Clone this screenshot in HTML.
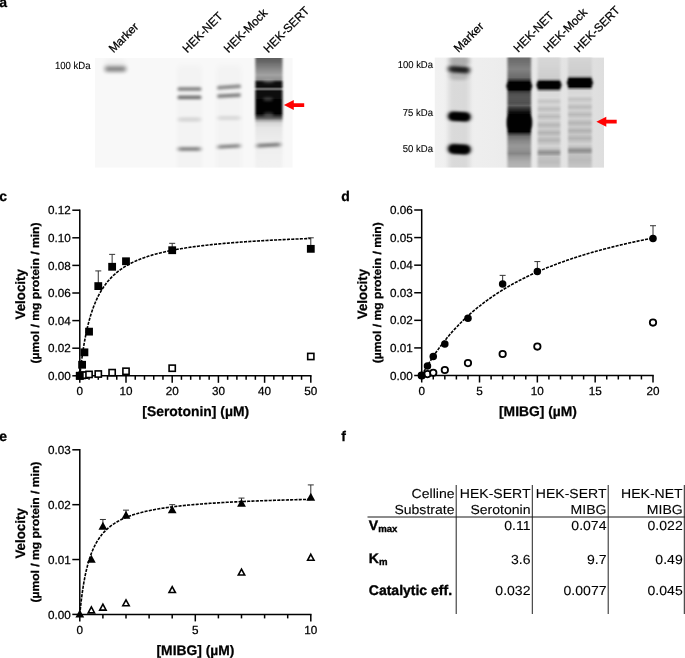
<!DOCTYPE html>
<html lang="en"><head><meta charset="utf-8"><title>Figure</title>
<style>
html,body{margin:0;padding:0;background:#fff;}
body{width:685px;height:658px;overflow:hidden;}
svg{display:block;font-family:'Liberation Sans', Arial, Helvetica, sans-serif;text-rendering:geometricPrecision;will-change:transform;opacity:0.999;}
.tk{font-size:11.7px;fill:#000;}
.b{font-weight:bold;}
text{stroke:#000;stroke-width:0.25px;}
.tbl text{stroke-width:0.1px;}
.tbl text.b{stroke-width:0.35px;}
</style></head><body>
<svg width="685" height="658" viewBox="0 0 685 658">
<defs>
<filter id="b1" x="-30%" y="-100%" width="160%" height="300%"><feGaussianBlur stdDeviation="1.2 0.9"/></filter>
<filter id="b1s" x="-30%" y="-150%" width="160%" height="400%"><feGaussianBlur stdDeviation="1.8 1.5"/></filter>
<filter id="sf" x="-10%" y="-5%" width="120%" height="110%"><feGaussianBlur stdDeviation="1.1 0.4"/></filter>
<filter id="bm" x="-30%" y="-200%" width="160%" height="500%"><feGaussianBlur stdDeviation="2 2.1"/></filter>
<filter id="b2" x="-30%" y="-100%" width="160%" height="300%"><feGaussianBlur stdDeviation="2 1.6"/></filter>
<filter id="b3" x="-30%" y="-50%" width="160%" height="200%"><feGaussianBlur stdDeviation="2.5 3"/></filter>
<filter id="b4" x="-30%" y="-30%" width="160%" height="160%"><feGaussianBlur stdDeviation="1.5 4"/></filter>
<clipPath id="cl1"><rect x="95" y="58" width="197.5" height="109.6"/></clipPath>
<clipPath id="cl2"><rect x="434.8" y="57.6" width="169.2" height="110"/></clipPath>
<linearGradient id="g2" x1="0" x2="1" y1="0" y2="0"><stop offset="0" stop-color="#f1f1f1"/><stop offset="0.35" stop-color="#ededed"/><stop offset="1" stop-color="#dedede"/></linearGradient>
</defs>
<rect width="685" height="658" fill="#fff"/>

<text x="-0.7" y="7.2" font-size="14" class="b">a</text>
<text x="-0.7" y="201.3" font-size="14" class="b">c</text>
<text x="341.3" y="201.2" font-size="14" class="b">d</text>
<text x="-0.7" y="440.5" font-size="14" class="b">e</text>
<text x="341.3" y="440.5" font-size="14" class="b">f</text>
<g id="blot1">
<rect x="95" y="58" width="197.5" height="109.6" fill="#f8f8f8"/>
<g clip-path="url(#cl1)">
<rect x="104.2" y="61.0" width="22" height="10" rx="5.0" fill="#000" opacity="0.06" filter="url(#b3)"/>
<rect x="104.7" y="67.0" width="21.5" height="4" rx="2.0" fill="#000" opacity="0.6" filter="url(#bm)"/>
<rect x="177.0" y="65.0" width="25" height="110" rx="3.0" fill="#000" opacity="0.02" filter="url(#b3)"/>
<rect x="216.5" y="65.0" width="25" height="110" rx="3.0" fill="#000" opacity="0.02" filter="url(#b3)"/>
<rect x="177.5" y="87.4" width="24" height="3.2" rx="1.6" fill="#000" opacity="0.56" filter="url(#b1s)"/>
<rect x="177.5" y="95.7" width="24" height="3.4" rx="1.7" fill="#000" opacity="0.6" filter="url(#b1s)"/>
<rect x="178.0" y="117.6" width="23" height="4" rx="2.0" fill="#000" opacity="0.13" filter="url(#b2)"/>
<rect x="178.0" y="147.3" width="23" height="3.4" rx="1.7" fill="#000" opacity="0.5" filter="url(#b2)"/>
<rect x="217.0" y="85.4" width="24" height="3.2" rx="1.6" fill="#000" opacity="0.54" filter="url(#b1s)" transform="rotate(-4 229 87)"/>
<rect x="217.0" y="93.9" width="24" height="3.4" rx="1.7" fill="#000" opacity="0.54" filter="url(#b1s)" transform="rotate(-3 229 95.6)"/>
<rect x="217.5" y="116.0" width="23" height="4" rx="2.0" fill="#000" opacity="0.11" filter="url(#b2)"/>
<rect x="217.5" y="144.7" width="23" height="3.4" rx="1.7" fill="#000" opacity="0.5" filter="url(#b2)" transform="rotate(-3 229 146.4)"/>
<linearGradient id="L1" gradientUnits="userSpaceOnUse" x1="0" y1="57" x2="0" y2="169"><stop offset="0.0000" stop-color="#5c5c5c"/><stop offset="0.0446" stop-color="#686868"/><stop offset="0.0982" stop-color="#848484"/><stop offset="0.1607" stop-color="#a2a2a2"/><stop offset="0.2009" stop-color="#909090"/><stop offset="0.2196" stop-color="#303030"/><stop offset="0.2321" stop-color="#0a0a0a"/><stop offset="0.2643" stop-color="#0a0a0a"/><stop offset="0.2768" stop-color="#484848"/><stop offset="0.2857" stop-color="#888888"/><stop offset="0.2946" stop-color="#484848"/><stop offset="0.3071" stop-color="#080808"/><stop offset="0.5045" stop-color="#040404"/><stop offset="0.5268" stop-color="#303030"/><stop offset="0.5491" stop-color="#686868"/><stop offset="0.5670" stop-color="#a8a8a8"/><stop offset="0.5893" stop-color="#d6d6d6"/><stop offset="0.6339" stop-color="#e6e6e6"/><stop offset="0.7411" stop-color="#ececec"/><stop offset="0.8750" stop-color="#f0f0f0"/><stop offset="1.0000" stop-color="#f2f2f2"/></linearGradient>
<rect x="255.3" y="57" width="27.2" height="112" fill="url(#L1)" filter="url(#sf)"/>
<ellipse cx="268" cy="99.3" rx="5" ry="1.7" fill="#fff" opacity="0.25" filter="url(#b1s)"/>
<ellipse cx="268.5" cy="114.5" rx="5" ry="2.2" fill="#fff" opacity="0.22" filter="url(#b1s)"/>
<ellipse cx="268.5" cy="81.5" rx="6" ry="1.2" fill="#fff" opacity="0.35" filter="url(#b1s)"/>
<rect x="256.6" y="143.6" width="24" height="3.2" rx="1.6" fill="#000" opacity="0.55" filter="url(#b2)" transform="rotate(-3 268.6 145.2)"/>
</g></g>
<text transform="translate(113.4,53.3) rotate(-45)" font-size="11.75">Marker</text>
<text transform="translate(187.2,53.4) rotate(-45)" font-size="11.75">HEK-NET</text>
<text transform="translate(228.4,53.4) rotate(-45)" font-size="11.75">HEK-Mock</text>
<text transform="translate(268.2,53.4) rotate(-45)" font-size="11.75">HEK-SERT</text>
<text x="90.6" y="68.5" font-size="10.3" text-anchor="end" style="stroke-width:0.1px" textLength="35.7" lengthAdjust="spacingAndGlyphs">100 kDa</text>
<path d="M283.9,105.05 l9.9,-4.95 v3.05 h10.40 v3.8 h-10.40 v3.05 z" fill="#ff0000"/>
<g id="blot2">
<rect x="434.8" y="57.6" width="169.2" height="110" fill="url(#g2)"/>
<g clip-path="url(#cl2)">
<rect x="448.5" y="47.0" width="21" height="130" rx="3.0" fill="#000" opacity="0.09" filter="url(#b3)"/>
<rect x="449.0" y="70.0" width="20" height="10" rx="5.0" fill="#000" opacity="0.16" filter="url(#b2)"/>
<rect x="449.5" y="56.0" width="20" height="10" rx="5.0" fill="#000" opacity="0.2" filter="url(#b2)"/>
<rect x="448.0" y="66.3" width="22" height="6.4" rx="3.2" fill="#000" opacity="0.8" filter="url(#b2)" transform="rotate(4 459 69.5)"/>
<rect x="453.0" y="68.5" width="14" height="2.5" rx="1.2" fill="#000" opacity="0.35" filter="url(#b1s)" transform="rotate(4 460 69.8)"/>
<rect x="448.1" y="112.1" width="22.5" height="9" rx="4.5" fill="#000" opacity="1" filter="url(#b2)" transform="rotate(3 459.3 116.6)"/>
<rect x="449.6" y="113.4" width="19.5" height="6.4" rx="3.2" fill="#000" opacity="1" filter="url(#b1s)" transform="rotate(3 459.3 116.6)"/>
<rect x="448.1" y="144.4" width="22.5" height="9.6" rx="4.8" fill="#000" opacity="1" filter="url(#b2)" transform="rotate(3 459.3 149.2)"/>
<rect x="449.6" y="145.7" width="19.5" height="7" rx="3.5" fill="#000" opacity="1" filter="url(#b1s)" transform="rotate(3 459.3 149.2)"/>
<linearGradient id="L2" gradientUnits="userSpaceOnUse" x1="0" y1="56" x2="0" y2="169"><stop offset="0.0000" stop-color="#6a6a6a"/><stop offset="0.0531" stop-color="#707070"/><stop offset="0.1150" stop-color="#828282"/><stop offset="0.1903" stop-color="#6c6c6c"/><stop offset="0.2150" stop-color="#383838"/><stop offset="0.2327" stop-color="#060606"/><stop offset="0.2973" stop-color="#060606"/><stop offset="0.3150" stop-color="#3c3c3c"/><stop offset="0.3363" stop-color="#505050"/><stop offset="0.3673" stop-color="#565656"/><stop offset="0.4159" stop-color="#505050"/><stop offset="0.4381" stop-color="#606060"/><stop offset="0.4558" stop-color="#404040"/><stop offset="0.4735" stop-color="#2c2c2c"/><stop offset="0.4956" stop-color="#121212"/><stop offset="0.5133" stop-color="#040404"/><stop offset="0.6699" stop-color="#040404"/><stop offset="0.6876" stop-color="#3c3c3c"/><stop offset="0.7124" stop-color="#707070"/><stop offset="0.7522" stop-color="#888888"/><stop offset="0.7965" stop-color="#989898"/><stop offset="0.8319" stop-color="#929292"/><stop offset="0.8628" stop-color="#868686"/><stop offset="0.8938" stop-color="#9c9c9c"/><stop offset="0.9381" stop-color="#aeaeae"/><stop offset="1.0000" stop-color="#b8b8b8"/></linearGradient>
<rect x="507.4" y="56" width="23.7" height="113" fill="url(#L2)" filter="url(#sf)"/>
<rect x="506.5" y="83.5" width="25.5" height="5" rx="2.5" fill="#000" opacity="1" filter="url(#b1s)"/>
<rect x="507.2" y="114.5" width="24.6" height="16" rx="6.0" fill="#000" opacity="1" filter="url(#b1s)"/>
<linearGradient id="L3" gradientUnits="userSpaceOnUse" x1="0" y1="56" x2="0" y2="169"><stop offset="0.0000" stop-color="#d8d8d8"/><stop offset="0.1239" stop-color="#d2d2d2"/><stop offset="0.1947" stop-color="#cecece"/><stop offset="0.2124" stop-color="#909090"/><stop offset="0.2301" stop-color="#060606"/><stop offset="0.2832" stop-color="#060606"/><stop offset="0.3009" stop-color="#808080"/><stop offset="0.3204" stop-color="#dadada"/><stop offset="0.3673" stop-color="#dcdcdc"/><stop offset="0.4009" stop-color="#c6c6c6"/><stop offset="0.4336" stop-color="#d6d6d6"/><stop offset="0.4690" stop-color="#bebebe"/><stop offset="0.5018" stop-color="#d2d2d2"/><stop offset="0.5354" stop-color="#bcbcbc"/><stop offset="0.5726" stop-color="#d2d2d2"/><stop offset="0.6106" stop-color="#b7b7b7"/><stop offset="0.6451" stop-color="#cccccc"/><stop offset="0.6788" stop-color="#b4b4b4"/><stop offset="0.7124" stop-color="#c8c8c8"/><stop offset="0.7460" stop-color="#b6b6b6"/><stop offset="0.7965" stop-color="#d4d4d4"/><stop offset="0.8230" stop-color="#c2c2c2"/><stop offset="0.8407" stop-color="#a0a0a0"/><stop offset="0.8549" stop-color="#929292"/><stop offset="0.8690" stop-color="#a0a0a0"/><stop offset="0.8894" stop-color="#c4c4c4"/><stop offset="0.9381" stop-color="#bcbcbc"/><stop offset="1.0000" stop-color="#cccccc"/></linearGradient>
<rect x="537.6" y="56" width="22.8" height="113" fill="url(#L3)" filter="url(#sf)"/>
<rect x="536.5" y="82.8" width="25" height="4.4" rx="2.2" fill="#000" opacity="1" filter="url(#b1s)"/>
<linearGradient id="L4" gradientUnits="userSpaceOnUse" x1="0" y1="56" x2="0" y2="169"><stop offset="0.0000" stop-color="#d6d6d6"/><stop offset="0.1062" stop-color="#d0d0d0"/><stop offset="0.1681" stop-color="#cccccc"/><stop offset="0.1858" stop-color="#909090"/><stop offset="0.2035" stop-color="#060606"/><stop offset="0.2708" stop-color="#060606"/><stop offset="0.2876" stop-color="#808080"/><stop offset="0.3062" stop-color="#d8d8d8"/><stop offset="0.3496" stop-color="#dadada"/><stop offset="0.3832" stop-color="#c4c4c4"/><stop offset="0.4159" stop-color="#d4d4d4"/><stop offset="0.4513" stop-color="#bcbcbc"/><stop offset="0.4841" stop-color="#d0d0d0"/><stop offset="0.5177" stop-color="#bababa"/><stop offset="0.5549" stop-color="#d0d0d0"/><stop offset="0.5929" stop-color="#b5b5b5"/><stop offset="0.6274" stop-color="#cacaca"/><stop offset="0.6611" stop-color="#b2b2b2"/><stop offset="0.6947" stop-color="#c6c6c6"/><stop offset="0.7283" stop-color="#b4b4b4"/><stop offset="0.7788" stop-color="#d2d2d2"/><stop offset="0.8053" stop-color="#c0c0c0"/><stop offset="0.8230" stop-color="#9e9e9e"/><stop offset="0.8381" stop-color="#909090"/><stop offset="0.8522" stop-color="#9e9e9e"/><stop offset="0.8726" stop-color="#c2c2c2"/><stop offset="0.9204" stop-color="#bababa"/><stop offset="1.0000" stop-color="#cacaca"/></linearGradient>
<rect x="568" y="56" width="23.8" height="113" fill="url(#L4)" filter="url(#sf)"/>
<rect x="566.9" y="80.5" width="26" height="4.6" rx="2.3" fill="#000" opacity="1" filter="url(#b1s)"/>
</g></g>
<text transform="translate(458.6,52.9) rotate(-45)" font-size="11.75">Marker</text>
<text transform="translate(518.2,52.9) rotate(-45)" font-size="11.75">HEK-NET</text>
<text transform="translate(548.2,52.9) rotate(-45)" font-size="11.75">HEK-Mock</text>
<text transform="translate(578.8,52.9) rotate(-45)" font-size="11.75">HEK-SERT</text>
<text x="433" y="68.15" font-size="10" text-anchor="end" style="stroke-width:0.1px" textLength="35.3" lengthAdjust="spacingAndGlyphs">100 kDa</text>
<text x="433" y="116" font-size="10" text-anchor="end" style="stroke-width:0.1px" textLength="30.2" lengthAdjust="spacingAndGlyphs">75 kDa</text>
<text x="433" y="152.2" font-size="10" text-anchor="end" style="stroke-width:0.1px" textLength="30.2" lengthAdjust="spacingAndGlyphs">50 kDa</text>
<path d="M596.4,121.7 l9.9,-4.95 v3.05 h10.40 v3.8 h-10.40 v3.05 z" fill="#ff0000"/>
<g>
<path d="M79.8,209.45 V375.8 H311.55" fill="none" stroke="#000" stroke-width="1.5"/>
<path d="M72.3,375.80 H79.8" stroke="#000" stroke-width="1.5"/>
<text class="tk" x="70.8" y="379.95" text-anchor="end">0.00</text>
<path d="M72.3,348.20 H79.8" stroke="#000" stroke-width="1.5"/>
<text class="tk" x="70.8" y="352.35" text-anchor="end">0.02</text>
<path d="M72.3,320.60 H79.8" stroke="#000" stroke-width="1.5"/>
<text class="tk" x="70.8" y="324.75" text-anchor="end">0.04</text>
<path d="M72.3,293.00 H79.8" stroke="#000" stroke-width="1.5"/>
<text class="tk" x="70.8" y="297.15" text-anchor="end">0.06</text>
<path d="M72.3,265.40 H79.8" stroke="#000" stroke-width="1.5"/>
<text class="tk" x="70.8" y="269.55" text-anchor="end">0.08</text>
<path d="M72.3,237.80 H79.8" stroke="#000" stroke-width="1.5"/>
<text class="tk" x="70.8" y="241.95" text-anchor="end">0.10</text>
<path d="M72.3,210.20 H79.8" stroke="#000" stroke-width="1.5"/>
<text class="tk" x="70.8" y="214.35" text-anchor="end">0.12</text>
<path d="M79.80,375.8 v7" stroke="#000" stroke-width="1.5"/>
<text class="tk" x="79.80" y="395.1" text-anchor="middle">0</text>
<path d="M89.04,375.8 v4" stroke="#000" stroke-width="1.5"/>
<path d="M98.28,375.8 v4" stroke="#000" stroke-width="1.5"/>
<path d="M107.52,375.8 v4" stroke="#000" stroke-width="1.5"/>
<path d="M116.76,375.8 v4" stroke="#000" stroke-width="1.5"/>
<path d="M126.00,375.8 v7" stroke="#000" stroke-width="1.5"/>
<text class="tk" x="126.00" y="395.1" text-anchor="middle">10</text>
<path d="M135.24,375.8 v4" stroke="#000" stroke-width="1.5"/>
<path d="M144.48,375.8 v4" stroke="#000" stroke-width="1.5"/>
<path d="M153.72,375.8 v4" stroke="#000" stroke-width="1.5"/>
<path d="M162.96,375.8 v4" stroke="#000" stroke-width="1.5"/>
<path d="M172.20,375.8 v7" stroke="#000" stroke-width="1.5"/>
<text class="tk" x="172.20" y="395.1" text-anchor="middle">20</text>
<path d="M181.44,375.8 v4" stroke="#000" stroke-width="1.5"/>
<path d="M190.68,375.8 v4" stroke="#000" stroke-width="1.5"/>
<path d="M199.92,375.8 v4" stroke="#000" stroke-width="1.5"/>
<path d="M209.16,375.8 v4" stroke="#000" stroke-width="1.5"/>
<path d="M218.40,375.8 v7" stroke="#000" stroke-width="1.5"/>
<text class="tk" x="218.40" y="395.1" text-anchor="middle">30</text>
<path d="M227.64,375.8 v4" stroke="#000" stroke-width="1.5"/>
<path d="M236.88,375.8 v4" stroke="#000" stroke-width="1.5"/>
<path d="M246.12,375.8 v4" stroke="#000" stroke-width="1.5"/>
<path d="M255.36,375.8 v4" stroke="#000" stroke-width="1.5"/>
<path d="M264.60,375.8 v7" stroke="#000" stroke-width="1.5"/>
<text class="tk" x="264.60" y="395.1" text-anchor="middle">40</text>
<path d="M273.84,375.8 v4" stroke="#000" stroke-width="1.5"/>
<path d="M283.08,375.8 v4" stroke="#000" stroke-width="1.5"/>
<path d="M292.32,375.8 v4" stroke="#000" stroke-width="1.5"/>
<path d="M301.56,375.8 v4" stroke="#000" stroke-width="1.5"/>
<path d="M310.80,375.8 v7" stroke="#000" stroke-width="1.5"/>
<text class="tk" x="310.80" y="395.1" text-anchor="middle">50</text>
<polyline points="79.80,375.80 79.84,375.46 79.91,374.78 80.01,373.85 80.13,372.74 80.27,371.47 80.43,370.06 80.61,368.53 80.80,366.90 81.01,365.19 81.23,363.41 81.47,361.56 81.71,359.67 81.98,357.74 82.25,355.77 82.54,353.79 82.83,351.79 83.14,349.77 83.46,347.76 83.79,345.74 84.13,343.74 84.49,341.74 84.85,339.75 85.22,337.79 85.60,335.84 85.99,333.91 86.40,332.01 86.81,330.13 87.23,328.28 87.65,326.46 88.09,324.67 88.54,322.91 88.99,321.18 89.46,319.49 89.93,317.82 90.41,316.19 90.90,314.59 91.40,313.02 91.90,311.48 92.42,309.98 92.94,308.51 93.47,307.07 94.01,305.66 94.55,304.28 95.10,302.93 95.66,301.62 96.23,300.33 96.81,299.07 97.39,297.84 97.98,296.64 98.58,295.46 99.18,294.31 99.79,293.19 100.41,292.10 101.04,291.02 101.67,289.98 102.31,288.96 102.96,287.96 103.61,286.98 104.27,286.03 104.94,285.09 105.61,284.18 106.29,283.29 106.98,282.42 107.67,281.57 108.37,280.74 109.08,279.93 109.79,279.13 110.51,278.35 111.24,277.59 111.97,276.85 112.71,276.12 113.45,275.41 114.20,274.72 114.96,274.04 115.72,273.37 116.49,272.72 117.27,272.09 118.05,271.46 118.84,270.85 119.63,270.26 120.43,269.67 121.24,269.10 122.05,268.54 122.86,267.99 123.69,267.45 124.52,266.93 125.35,266.41 126.19,265.91 127.04,265.41 127.89,264.93 128.75,264.45 129.61,263.99 130.48,263.53 131.36,263.08 132.24,262.64 133.12,262.21 134.01,261.79 134.91,261.38 135.81,260.97 136.72,260.57 137.63,260.18 138.55,259.80 139.48,259.42 140.41,259.06 141.34,258.69 142.28,258.34 143.23,257.99 144.18,257.65 145.14,257.31 146.10,256.98 147.07,256.66 148.04,256.34 149.01,256.03 150.00,255.72 150.99,255.42 151.98,255.12 152.98,254.83 153.98,254.54 154.99,254.26 156.00,253.99 157.02,253.71 158.04,253.45 159.07,253.18 160.11,252.93 161.14,252.67 162.19,252.42 163.24,252.18 164.29,251.93 165.35,251.70 166.41,251.46 167.48,251.23 168.55,251.01 169.63,250.78 170.72,250.56 171.80,250.35 172.90,250.14 173.99,249.93 175.10,249.72 176.20,249.52 177.32,249.32 178.43,249.12 179.56,248.93 180.68,248.74 181.81,248.55 182.95,248.37 184.09,248.18 185.23,248.00 186.38,247.83 187.54,247.65 188.70,247.48 189.86,247.31 191.03,247.15 192.20,246.98 193.38,246.82 194.56,246.66 195.75,246.50 196.94,246.35 198.14,246.19 199.34,246.04 200.54,245.90 201.75,245.75 202.97,245.60 204.19,245.46 205.41,245.32 206.64,245.18 207.87,245.05 209.11,244.91 210.35,244.78 211.59,244.65 212.84,244.52 214.10,244.39 215.36,244.26 216.62,244.14 217.89,244.01 219.16,243.89 220.44,243.77 221.72,243.66 223.00,243.54 224.29,243.42 225.58,243.31 226.88,243.20 228.18,243.09 229.49,242.98 230.80,242.87 232.12,242.76 233.44,242.66 234.76,242.55 236.09,242.45 237.42,242.35 238.76,242.25 240.10,242.15 241.44,242.05 242.79,241.95 244.15,241.86 245.50,241.76 246.86,241.67 248.23,241.58 249.60,241.49 250.97,241.40 252.35,241.31 253.74,241.22 255.12,241.13 256.51,241.05 257.91,240.96 259.31,240.88 260.71,240.79 262.12,240.71 263.53,240.63 264.94,240.55 266.36,240.47 267.79,240.39 269.21,240.31 270.65,240.24 272.08,240.16 273.52,240.09 274.96,240.01 276.41,239.94 277.86,239.87 279.32,239.79 280.78,239.72 282.24,239.65 283.71,239.58 285.18,239.51 286.66,239.45 288.14,239.38 289.62,239.31 291.11,239.25 292.60,239.18 294.09,239.12 295.59,239.05 297.10,238.99 298.60,238.93 300.11,238.86 301.63,238.80 303.15,238.74 304.67,238.68 306.20,238.62 307.73,238.56 309.26,238.50 310.80,238.45" fill="none" stroke="#000" stroke-width="1.6" stroke-dasharray="3.1 1.2"/>
<path d="M98.28,286.10 V270.92 M95.28,270.92 h6" stroke="#333" stroke-width="1" fill="none"/>
<path d="M112.14,266.78 V254.36 M109.14,254.36 h6" stroke="#333" stroke-width="1" fill="none"/>
<path d="M172.20,250.22 V243.32 M169.20,243.32 h6" stroke="#333" stroke-width="1" fill="none"/>
<path d="M310.80,248.84 V237.80 M307.80,237.80 h6" stroke="#333" stroke-width="1" fill="none"/>
<rect x="76.70" y="372.70" width="6.2" height="6.2" fill="#fff" stroke="#000" stroke-width="1.6"/>
<rect x="79.01" y="372.29" width="6.2" height="6.2" fill="#fff" stroke="#000" stroke-width="1.6"/>
<rect x="81.32" y="372.01" width="6.2" height="6.2" fill="#fff" stroke="#000" stroke-width="1.6"/>
<rect x="85.94" y="371.32" width="6.2" height="6.2" fill="#fff" stroke="#000" stroke-width="1.6"/>
<rect x="95.18" y="370.91" width="6.2" height="6.2" fill="#fff" stroke="#000" stroke-width="1.6"/>
<rect x="109.04" y="369.53" width="6.2" height="6.2" fill="#fff" stroke="#000" stroke-width="1.6"/>
<rect x="122.90" y="368.15" width="6.2" height="6.2" fill="#fff" stroke="#000" stroke-width="1.6"/>
<rect x="169.10" y="365.11" width="6.2" height="6.2" fill="#fff" stroke="#000" stroke-width="1.6"/>
<rect x="307.70" y="353.38" width="6.2" height="6.2" fill="#fff" stroke="#000" stroke-width="1.6"/>
<rect x="75.90" y="371.90" width="7.8" height="7.8" fill="#000"/>
<rect x="78.21" y="360.86" width="7.8" height="7.8" fill="#000"/>
<rect x="80.52" y="348.44" width="7.8" height="7.8" fill="#000"/>
<rect x="85.14" y="327.74" width="7.8" height="7.8" fill="#000"/>
<rect x="94.38" y="282.20" width="7.8" height="7.8" fill="#000"/>
<rect x="108.24" y="262.88" width="7.8" height="7.8" fill="#000"/>
<rect x="122.10" y="257.36" width="7.8" height="7.8" fill="#000"/>
<rect x="168.30" y="246.32" width="7.8" height="7.8" fill="#000"/>
<rect x="306.90" y="244.94" width="7.8" height="7.8" fill="#000"/>
<text transform="translate(25.0,294.3) rotate(-90)" text-anchor="middle" font-size="13.6" class="b" textLength="50.4" lengthAdjust="spacingAndGlyphs">Velocity</text>
<text transform="translate(39.099999999999994,293.0) rotate(-90)" text-anchor="middle" font-size="11.3" class="b" textLength="141" lengthAdjust="spacingAndGlyphs">(µmol / mg protein / min)</text>
<text x="195.7" y="415.5" text-anchor="middle" font-size="13.8" class="b" textLength="106.8" lengthAdjust="spacingAndGlyphs">[Serotonin] (µM)</text>
</g>
<g>
<path d="M421.7,209.25 V375.5 H653.75" fill="none" stroke="#000" stroke-width="1.5"/>
<path d="M414.2,375.50 H421.7" stroke="#000" stroke-width="1.5"/>
<text class="tk" x="412.7" y="379.65" text-anchor="end">0.00</text>
<path d="M414.2,347.92 H421.7" stroke="#000" stroke-width="1.5"/>
<text class="tk" x="412.7" y="352.07" text-anchor="end">0.01</text>
<path d="M414.2,320.33 H421.7" stroke="#000" stroke-width="1.5"/>
<text class="tk" x="412.7" y="324.48" text-anchor="end">0.02</text>
<path d="M414.2,292.75 H421.7" stroke="#000" stroke-width="1.5"/>
<text class="tk" x="412.7" y="296.90" text-anchor="end">0.03</text>
<path d="M414.2,265.17 H421.7" stroke="#000" stroke-width="1.5"/>
<text class="tk" x="412.7" y="269.32" text-anchor="end">0.04</text>
<path d="M414.2,237.58 H421.7" stroke="#000" stroke-width="1.5"/>
<text class="tk" x="412.7" y="241.73" text-anchor="end">0.05</text>
<path d="M414.2,210.00 H421.7" stroke="#000" stroke-width="1.5"/>
<text class="tk" x="412.7" y="214.15" text-anchor="end">0.06</text>
<path d="M421.70,375.5 v7" stroke="#000" stroke-width="1.5"/>
<text class="tk" x="421.70" y="394.8" text-anchor="middle">0</text>
<path d="M433.26,375.5 v4" stroke="#000" stroke-width="1.5"/>
<path d="M444.83,375.5 v4" stroke="#000" stroke-width="1.5"/>
<path d="M456.39,375.5 v4" stroke="#000" stroke-width="1.5"/>
<path d="M467.96,375.5 v4" stroke="#000" stroke-width="1.5"/>
<path d="M479.52,375.5 v7" stroke="#000" stroke-width="1.5"/>
<text class="tk" x="479.52" y="394.8" text-anchor="middle">5</text>
<path d="M491.09,375.5 v4" stroke="#000" stroke-width="1.5"/>
<path d="M502.65,375.5 v4" stroke="#000" stroke-width="1.5"/>
<path d="M514.22,375.5 v4" stroke="#000" stroke-width="1.5"/>
<path d="M525.78,375.5 v4" stroke="#000" stroke-width="1.5"/>
<path d="M537.35,375.5 v7" stroke="#000" stroke-width="1.5"/>
<text class="tk" x="537.35" y="394.8" text-anchor="middle">10</text>
<path d="M548.91,375.5 v4" stroke="#000" stroke-width="1.5"/>
<path d="M560.48,375.5 v4" stroke="#000" stroke-width="1.5"/>
<path d="M572.05,375.5 v4" stroke="#000" stroke-width="1.5"/>
<path d="M583.61,375.5 v4" stroke="#000" stroke-width="1.5"/>
<path d="M595.17,375.5 v7" stroke="#000" stroke-width="1.5"/>
<text class="tk" x="595.17" y="394.8" text-anchor="middle">15</text>
<path d="M606.74,375.5 v4" stroke="#000" stroke-width="1.5"/>
<path d="M618.31,375.5 v4" stroke="#000" stroke-width="1.5"/>
<path d="M629.87,375.5 v4" stroke="#000" stroke-width="1.5"/>
<path d="M641.43,375.5 v4" stroke="#000" stroke-width="1.5"/>
<path d="M653.00,375.5 v7" stroke="#000" stroke-width="1.5"/>
<text class="tk" x="653.00" y="394.8" text-anchor="middle">20</text>
<polyline points="421.70,375.50 421.74,375.43 421.81,375.30 421.91,375.12 422.03,374.90 422.17,374.64 422.33,374.36 422.51,374.04 422.70,373.69 422.91,373.32 423.13,372.93 423.37,372.51 423.62,372.07 423.88,371.61 424.15,371.13 424.44,370.64 424.74,370.12 425.05,369.59 425.37,369.04 425.70,368.48 426.04,367.90 426.39,367.30 426.75,366.70 427.13,366.08 427.51,365.45 427.90,364.81 428.30,364.15 428.71,363.49 429.14,362.81 429.56,362.13 430.00,361.43 430.45,360.73 430.91,360.02 431.37,359.30 431.84,358.57 432.33,357.84 432.82,357.10 433.31,356.35 433.82,355.60 434.33,354.84 434.86,354.07 435.39,353.30 435.92,352.53 436.47,351.75 437.02,350.97 437.58,350.18 438.15,349.39 438.73,348.60 439.31,347.80 439.90,347.00 440.50,346.20 441.11,345.40 441.72,344.59 442.34,343.78 442.97,342.97 443.60,342.16 444.24,341.35 444.89,340.54 445.54,339.72 446.20,338.91 446.87,338.10 447.54,337.28 448.23,336.47 448.91,335.65 449.61,334.84 450.31,334.02 451.02,333.21 451.73,332.40 452.45,331.59 453.18,330.78 453.91,329.97 454.65,329.16 455.40,328.35 456.15,327.55 456.91,326.74 457.67,325.94 458.44,325.14 459.22,324.35 460.00,323.55 460.79,322.76 461.58,321.97 462.38,321.18 463.19,320.39 464.00,319.61 464.82,318.83 465.64,318.05 466.47,317.27 467.31,316.50 468.15,315.73 469.00,314.96 469.85,314.20 470.71,313.44 471.58,312.68 472.45,311.92 473.32,311.17 474.20,310.42 475.09,309.68 475.98,308.94 476.88,308.20 477.79,307.46 478.70,306.73 479.61,306.01 480.53,305.28 481.46,304.56 482.39,303.84 483.32,303.13 484.26,302.42 485.21,301.71 486.16,301.01 487.12,300.31 488.08,299.62 489.05,298.92 490.03,298.24 491.00,297.55 491.99,296.87 492.98,296.20 493.97,295.52 494.97,294.85 495.98,294.19 496.99,293.53 498.00,292.87 499.02,292.22 500.05,291.57 501.08,290.92 502.11,290.28 503.15,289.64 504.20,289.00 505.25,288.37 506.30,287.75 507.36,287.12 508.43,286.50 509.50,285.89 510.57,285.27 511.65,284.67 512.73,284.06 513.82,283.46 514.92,282.86 516.02,282.27 517.12,281.68 518.23,281.09 519.34,280.51 520.46,279.93 521.58,279.36 522.71,278.79 523.85,278.22 524.98,277.66 526.12,277.10 527.27,276.54 528.42,275.99 529.58,275.44 530.74,274.89 531.90,274.35 533.07,273.81 534.25,273.27 535.43,272.74 536.61,272.21 537.80,271.69 538.99,271.17 540.19,270.65 541.39,270.13 542.60,269.62 543.81,269.12 545.03,268.61 546.25,268.11 547.47,267.61 548.70,267.12 549.94,266.63 551.17,266.14 552.42,265.65 553.66,265.17 554.92,264.69 556.17,264.22 557.43,263.75 558.70,263.28 559.97,262.81 561.24,262.35 562.52,261.89 563.80,261.43 565.09,260.98 566.38,260.53 567.67,260.08 568.97,259.64 570.28,259.20 571.59,258.76 572.90,258.32 574.21,257.89 575.54,257.46 576.86,257.03 578.19,256.61 579.53,256.19 580.86,255.77 582.21,255.35 583.55,254.94 584.90,254.53 586.26,254.13 587.62,253.72 588.98,253.32 590.35,252.92 591.72,252.52 593.10,252.13 594.48,251.74 595.86,251.35 597.25,250.96 598.64,250.58 600.04,250.20 601.44,249.82 602.84,249.45 604.25,249.07 605.67,248.70 607.08,248.33 608.51,247.97 609.93,247.61 611.36,247.24 612.79,246.89 614.23,246.53 615.67,246.18 617.12,245.82 618.57,245.48 620.02,245.13 621.48,244.78 622.94,244.44 624.41,244.10 625.87,243.76 627.35,243.43 628.83,243.09 630.31,242.76 631.79,242.43 633.28,242.11 634.78,241.78 636.27,241.46 637.77,241.14 639.28,240.82 640.79,240.51 642.30,240.19 643.82,239.88 645.34,239.57 646.86,239.26 648.39,238.95 649.92,238.65 651.46,238.35 653.00,238.05" fill="none" stroke="#000" stroke-width="1.6" stroke-dasharray="3.1 1.2"/>
<path d="M502.65,283.92 V275.37 M499.65,275.37 h6" stroke="#333" stroke-width="1" fill="none"/>
<path d="M537.35,271.51 V261.58 M534.35,261.58 h6" stroke="#333" stroke-width="1" fill="none"/>
<path d="M653.00,238.41 V225.72 M650.00,225.72 h6" stroke="#333" stroke-width="1" fill="none"/>
<circle cx="421.70" cy="375.50" r="3.2" fill="#fff" stroke="#000" stroke-width="1.8"/>
<circle cx="427.48" cy="374.12" r="3.2" fill="#fff" stroke="#000" stroke-width="1.8"/>
<circle cx="433.26" cy="372.74" r="3.2" fill="#fff" stroke="#000" stroke-width="1.8"/>
<circle cx="444.83" cy="369.98" r="3.2" fill="#fff" stroke="#000" stroke-width="1.8"/>
<circle cx="467.96" cy="363.09" r="3.2" fill="#fff" stroke="#000" stroke-width="1.8"/>
<circle cx="502.65" cy="353.99" r="3.2" fill="#fff" stroke="#000" stroke-width="1.8"/>
<circle cx="537.35" cy="346.54" r="3.2" fill="#fff" stroke="#000" stroke-width="1.8"/>
<circle cx="653.00" cy="322.54" r="3.2" fill="#fff" stroke="#000" stroke-width="1.8"/>
<circle cx="421.70" cy="375.50" r="3.75" fill="#000"/>
<circle cx="427.48" cy="366.12" r="3.75" fill="#000"/>
<circle cx="433.26" cy="356.47" r="3.75" fill="#000"/>
<circle cx="444.83" cy="344.06" r="3.75" fill="#000"/>
<circle cx="467.96" cy="318.13" r="3.75" fill="#000"/>
<circle cx="502.65" cy="283.92" r="3.75" fill="#000"/>
<circle cx="537.35" cy="271.51" r="3.75" fill="#000"/>
<circle cx="653.00" cy="238.41" r="3.75" fill="#000"/>
<text transform="translate(366.9,294.05) rotate(-90)" text-anchor="middle" font-size="13.6" class="b" textLength="50.4" lengthAdjust="spacingAndGlyphs">Velocity</text>
<text transform="translate(381.0,292.75) rotate(-90)" text-anchor="middle" font-size="11.3" class="b" textLength="141" lengthAdjust="spacingAndGlyphs">(µmol / mg protein / min)</text>
<text x="538" y="415.5" text-anchor="middle" font-size="13.8" class="b" textLength="78" lengthAdjust="spacingAndGlyphs">[MIBG] (µM)</text>
</g>
<g>
<path d="M79.8,449.05 V614.4 H311.55" fill="none" stroke="#000" stroke-width="1.5"/>
<path d="M72.3,614.40 H79.8" stroke="#000" stroke-width="1.5"/>
<text class="tk" x="70.8" y="618.55" text-anchor="end">0.00</text>
<path d="M72.3,559.53 H79.8" stroke="#000" stroke-width="1.5"/>
<text class="tk" x="70.8" y="563.68" text-anchor="end">0.01</text>
<path d="M72.3,504.67 H79.8" stroke="#000" stroke-width="1.5"/>
<text class="tk" x="70.8" y="508.82" text-anchor="end">0.02</text>
<path d="M72.3,449.80 H79.8" stroke="#000" stroke-width="1.5"/>
<text class="tk" x="70.8" y="453.95" text-anchor="end">0.03</text>
<path d="M79.80,614.4 v7" stroke="#000" stroke-width="1.5"/>
<text class="tk" x="79.80" y="633.6999999999999" text-anchor="middle">0</text>
<path d="M102.90,614.4 v4" stroke="#000" stroke-width="1.5"/>
<path d="M126.00,614.4 v4" stroke="#000" stroke-width="1.5"/>
<path d="M149.10,614.4 v4" stroke="#000" stroke-width="1.5"/>
<path d="M172.20,614.4 v4" stroke="#000" stroke-width="1.5"/>
<path d="M195.30,614.4 v7" stroke="#000" stroke-width="1.5"/>
<text class="tk" x="195.30" y="633.6999999999999" text-anchor="middle">5</text>
<path d="M218.40,614.4 v4" stroke="#000" stroke-width="1.5"/>
<path d="M241.50,614.4 v4" stroke="#000" stroke-width="1.5"/>
<path d="M264.60,614.4 v4" stroke="#000" stroke-width="1.5"/>
<path d="M287.70,614.4 v4" stroke="#000" stroke-width="1.5"/>
<path d="M310.80,614.4 v7" stroke="#000" stroke-width="1.5"/>
<text class="tk" x="310.80" y="633.6999999999999" text-anchor="middle">10</text>
<polyline points="79.80,614.40 79.84,614.02 79.91,613.25 80.01,612.22 80.13,610.98 80.27,609.57 80.43,608.02 80.61,606.36 80.80,604.60 81.01,602.76 81.23,600.86 81.47,598.92 81.71,596.94 81.98,594.94 82.25,592.93 82.54,590.91 82.83,588.89 83.14,586.89 83.46,584.89 83.79,582.92 84.13,580.98 84.49,579.06 84.85,577.17 85.22,575.31 85.60,573.49 85.99,571.71 86.40,569.96 86.81,568.25 87.23,566.58 87.65,564.95 88.09,563.36 88.54,561.81 88.99,560.30 89.46,558.82 89.93,557.39 90.41,555.99 90.90,554.63 91.40,553.31 91.90,552.02 92.42,550.77 92.94,549.56 93.47,548.37 94.01,547.22 94.55,546.10 95.10,545.01 95.66,543.96 96.23,542.93 96.81,541.93 97.39,540.96 97.98,540.01 98.58,539.09 99.18,538.20 99.79,537.33 100.41,536.48 101.04,535.66 101.67,534.86 102.31,534.08 102.96,533.32 103.61,532.59 104.27,531.87 104.94,531.17 105.61,530.49 106.29,529.83 106.98,529.18 107.67,528.56 108.37,527.94 109.08,527.35 109.79,526.77 110.51,526.20 111.24,525.65 111.97,525.11 112.71,524.59 113.45,524.07 114.20,523.58 114.96,523.09 115.72,522.61 116.49,522.15 117.27,521.70 118.05,521.26 118.84,520.83 119.63,520.40 120.43,519.99 121.24,519.59 122.05,519.20 122.86,518.82 123.69,518.44 124.52,518.08 125.35,517.72 126.19,517.37 127.04,517.03 127.89,516.69 128.75,516.36 129.61,516.04 130.48,515.73 131.36,515.42 132.24,515.12 133.12,514.83 134.01,514.54 134.91,514.26 135.81,513.98 136.72,513.71 137.63,513.45 138.55,513.19 139.48,512.94 140.41,512.69 141.34,512.44 142.28,512.21 143.23,511.97 144.18,511.74 145.14,511.52 146.10,511.30 147.07,511.08 148.04,510.87 149.01,510.66 150.00,510.45 150.99,510.25 151.98,510.06 152.98,509.86 153.98,509.67 154.99,509.49 156.00,509.30 157.02,509.12 158.04,508.95 159.07,508.78 160.11,508.60 161.14,508.44 162.19,508.27 163.24,508.11 164.29,507.95 165.35,507.80 166.41,507.64 167.48,507.49 168.55,507.35 169.63,507.20 170.72,507.06 171.80,506.92 172.90,506.78 173.99,506.64 175.10,506.51 176.20,506.38 177.32,506.25 178.43,506.12 179.56,505.99 180.68,505.87 181.81,505.75 182.95,505.63 184.09,505.51 185.23,505.40 186.38,505.28 187.54,505.17 188.70,505.06 189.86,504.95 191.03,504.84 192.20,504.74 193.38,504.63 194.56,504.53 195.75,504.43 196.94,504.33 198.14,504.23 199.34,504.13 200.54,504.04 201.75,503.95 202.97,503.85 204.19,503.76 205.41,503.67 206.64,503.58 207.87,503.50 209.11,503.41 210.35,503.32 211.59,503.24 212.84,503.16 214.10,503.08 215.36,503.00 216.62,502.92 217.89,502.84 219.16,502.76 220.44,502.68 221.72,502.61 223.00,502.54 224.29,502.46 225.58,502.39 226.88,502.32 228.18,502.25 229.49,502.18 230.80,502.11 232.12,502.04 233.44,501.98 234.76,501.91 236.09,501.84 237.42,501.78 238.76,501.72 240.10,501.65 241.44,501.59 242.79,501.53 244.15,501.47 245.50,501.41 246.86,501.35 248.23,501.29 249.60,501.24 250.97,501.18 252.35,501.12 253.74,501.07 255.12,501.01 256.51,500.96 257.91,500.91 259.31,500.85 260.71,500.80 262.12,500.75 263.53,500.70 264.94,500.65 266.36,500.60 267.79,500.55 269.21,500.50 270.65,500.45 272.08,500.40 273.52,500.36 274.96,500.31 276.41,500.26 277.86,500.22 279.32,500.17 280.78,500.13 282.24,500.08 283.71,500.04 285.18,500.00 286.66,499.96 288.14,499.91 289.62,499.87 291.11,499.83 292.60,499.79 294.09,499.75 295.59,499.71 297.10,499.67 298.60,499.63 300.11,499.59 301.63,499.55 303.15,499.52 304.67,499.48 306.20,499.44 307.73,499.40 309.26,499.37 310.80,499.33" fill="none" stroke="#000" stroke-width="1.6" stroke-dasharray="3.1 1.2"/>
<path d="M102.90,526.61 V519.48 M99.90,519.48 h6" stroke="#333" stroke-width="1" fill="none"/>
<path d="M126.00,515.64 V510.15 M123.00,510.15 h6" stroke="#333" stroke-width="1" fill="none"/>
<path d="M172.20,510.15 V504.67 M169.20,504.67 h6" stroke="#333" stroke-width="1" fill="none"/>
<path d="M241.50,503.57 V498.08 M238.50,498.08 h6" stroke="#333" stroke-width="1" fill="none"/>
<path d="M310.80,497.53 V484.91 M307.80,484.91 h6" stroke="#333" stroke-width="1" fill="none"/>
<path d="M91.35,606.96 l3.2,5.9 h-6.4 z" fill="#fff" stroke="#000" stroke-width="1.6" stroke-linejoin="miter"/>
<path d="M102.90,604.22 l3.2,5.9 h-6.4 z" fill="#fff" stroke="#000" stroke-width="1.6" stroke-linejoin="miter"/>
<path d="M126.00,599.83 l3.2,5.9 h-6.4 z" fill="#fff" stroke="#000" stroke-width="1.6" stroke-linejoin="miter"/>
<path d="M172.20,586.66 l3.2,5.9 h-6.4 z" fill="#fff" stroke="#000" stroke-width="1.6" stroke-linejoin="miter"/>
<path d="M241.50,569.10 l3.2,5.9 h-6.4 z" fill="#fff" stroke="#000" stroke-width="1.6" stroke-linejoin="miter"/>
<path d="M310.80,554.29 l3.2,5.9 h-6.4 z" fill="#fff" stroke="#000" stroke-width="1.6" stroke-linejoin="miter"/>
<path d="M79.80,609.60 l4.4,8 h-8.8 z" fill="#000"/>
<path d="M91.35,554.73 l4.4,8 h-8.8 z" fill="#000"/>
<path d="M102.90,521.81 l4.4,8 h-8.8 z" fill="#000"/>
<path d="M126.00,510.84 l4.4,8 h-8.8 z" fill="#000"/>
<path d="M172.20,505.35 l4.4,8 h-8.8 z" fill="#000"/>
<path d="M241.50,498.77 l4.4,8 h-8.8 z" fill="#000"/>
<path d="M310.80,492.73 l4.4,8 h-8.8 z" fill="#000"/>
<text transform="translate(25.0,533.4) rotate(-90)" text-anchor="middle" font-size="13.6" class="b" textLength="50.4" lengthAdjust="spacingAndGlyphs">Velocity</text>
<text transform="translate(39.099999999999994,532.1) rotate(-90)" text-anchor="middle" font-size="11.3" class="b" textLength="141" lengthAdjust="spacingAndGlyphs">(µmol / mg protein / min)</text>
<text x="195.5" y="654.6" text-anchor="middle" font-size="13.8" class="b" textLength="78" lengthAdjust="spacingAndGlyphs">[MIBG] (µM)</text>
</g>
<g font-size="13" class="tbl">
<path d="M456.2,485 V614" stroke="#222" stroke-width="1"/>
<path d="M532.3,485 V614" stroke="#222" stroke-width="1"/>
<path d="M608.2,485 V614" stroke="#222" stroke-width="1"/>
<path d="M684.3,485 V614" stroke="#222" stroke-width="1"/>
<path d="M367.5,517 H685" stroke="#1a1a1a" stroke-width="1.1"/>
<text transform="translate(454.5 497.6) scale(1.08 1)" text-anchor="end">Celline</text>
<text transform="translate(454.5 513.5) scale(1.08 1)" text-anchor="end">Substrate</text>
<text transform="translate(530.5 497.6) scale(1.08 1)" text-anchor="end">HEK-SERT</text>
<text transform="translate(530.5 513.5) scale(1.08 1)" text-anchor="end">Serotonin</text>
<text transform="translate(606.5 497.6) scale(1.08 1)" text-anchor="end">HEK-SERT</text>
<text transform="translate(606.5 513.5) scale(1.08 1)" text-anchor="end">MIBG</text>
<text transform="translate(682.7 497.6) scale(1.08 1)" text-anchor="end">HEK-NET</text>
<text transform="translate(682.7 513.5) scale(1.08 1)" text-anchor="end">MIBG</text>
<text transform="translate(530.5 530.3) scale(1.08 1)" text-anchor="end">0.11</text>
<text transform="translate(606.5 530.3) scale(1.08 1)" text-anchor="end">0.074</text>
<text transform="translate(682.7 530.3) scale(1.08 1)" text-anchor="end">0.022</text>
<text transform="translate(530.5 563.5) scale(1.08 1)" text-anchor="end">3.6</text>
<text transform="translate(606.5 563.5) scale(1.08 1)" text-anchor="end">9.7</text>
<text transform="translate(682.7 563.5) scale(1.08 1)" text-anchor="end">0.49</text>
<text transform="translate(530.5 595) scale(1.08 1)" text-anchor="end">0.032</text>
<text transform="translate(606.5 595) scale(1.08 1)" text-anchor="end">0.0077</text>
<text transform="translate(682.7 595) scale(1.08 1)" text-anchor="end">0.045</text>
<text x="368.8" y="530.3" font-size="14" class="b">V<tspan font-size="9.6" dy="1.8">max</tspan></text>
<text x="368.8" y="562.8" font-size="14" class="b">K<tspan font-size="9.6" dy="1.8">m</tspan></text>
<text x="368.8" y="594.6" font-size="14" class="b">Catalytic eff.</text>
</g>
</svg></body></html>
